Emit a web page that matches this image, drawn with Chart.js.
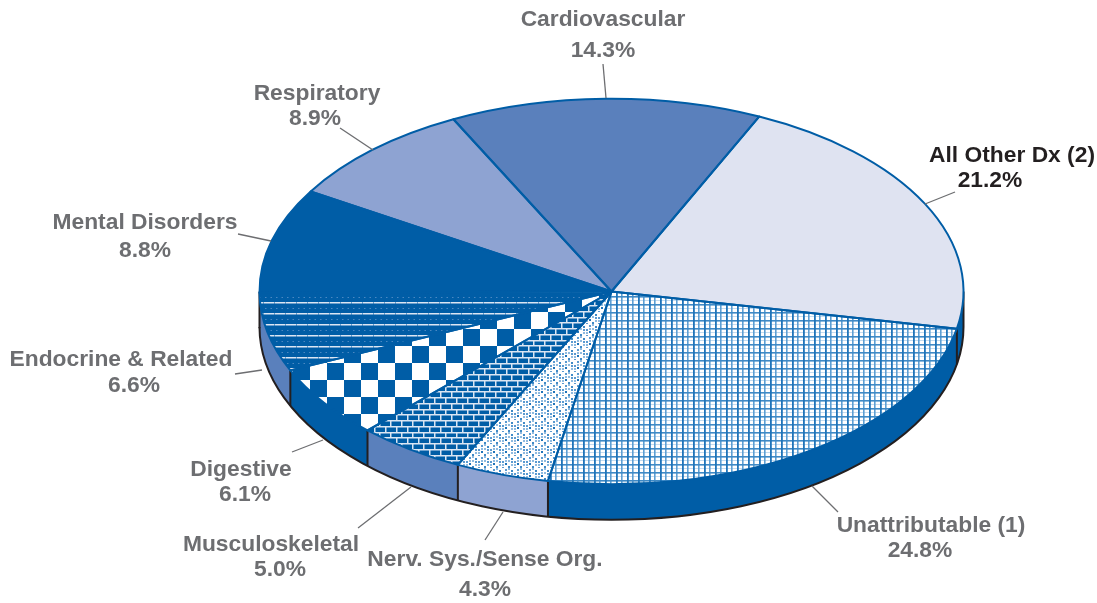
<!DOCTYPE html>
<html>
<head>
<meta charset="utf-8">
<script src="https://cdn.jsdelivr.net/npm/chart.js@4"></script>
<style>
  html, body { margin: 0; padding: 0; background: #fff; }
  #wrap { width: 1097px; height: 603px; }
</style>
</head>
<body>
<div id="wrap"><canvas id="pie"></canvas></div>
<script>
// 数据
const categories = ['All Other Dx (2)', 'Unattributable (1)', 'Nerv. Sys./Sense Org.', 'Musculoskeletal', 'Digestive', 'Endocrine & Related', 'Mental Disorders', 'Respiratory', 'Cardiovascular'];
const shares = [21.2, 24.8, 4.3, 5.0, 6.1, 6.6, 8.8, 8.9, 14.3];
const shareLabels = ['21.2%', '24.8%', '4.3%', '5.0%', '6.1%', '6.6%', '8.8%', '8.9%', '14.3%'];

// 颜色
const BLUE = '#005da6';
const MID = '#5a80bc';
const LIGHT = '#8ea3d2';
const PALE = '#dfe3f1';
const GREY = '#6d6e71';
const INK = '#231f20';
const sideColors = [BLUE, BLUE, LIGHT, MID, BLUE, MID, BLUE, LIGHT, MID];

// 倾斜与厚度
const SQUASH = 0.5475;
const RADIUS = 352;
const DEPTH = 35.5;

// 标签位置：name x,y / percent x,y / 引线
const labelSpots = [
  { nx: 1012, ny: 156, px: 990, py: 181, line: [925, 204, 955, 192] },
  { nx: 931, ny: 526, px: 920, py: 551, line: [838, 512, 812, 486] },
  { nx: 485, ny: 560, px: 485, py: 590, line: [485, 540, 503, 512] },
  { nx: 271, ny: 545, px: 280, py: 570, line: [358, 528, 411, 487] },
  { nx: 241, ny: 470, px: 245, py: 495, line: [292, 452, 323, 440] },
  { nx: 121, ny: 360, px: 134, py: 386, line: [235, 374, 262, 370] },
  { nx: 145, ny: 223, px: 145, py: 251, line: [238, 234, 271, 241] },
  { nx: 317, ny: 94, px: 315, py: 119, line: [340, 128, 373, 150] },
  { nx: 603, ny: 20, px: 603, py: 51, line: [603, 64, 606, 98] }
];

// 生成平铺图案
function makeTile(w, h, bg, paint) {
  const c = document.createElement('canvas');
  c.width = w;
  c.height = h;
  const g = c.getContext('2d');
  g.fillStyle = bg;
  g.fillRect(0, 0, w, h);
  paint(g);
  return g.createPattern(c, 'repeat');
}

const gridFill = makeTile(11, 8, '#ffffff', g => {
  g.fillStyle = '#c4dcf0';
  g.fillRect(0, 4, 11, 1);
  g.fillStyle = '#5d9fd3';
  g.fillRect(5, 0, 1.6, 8);
  g.fillStyle = '#3f8ac6';
  g.fillRect(0, 0, 11, 1.6);
  g.fillStyle = '#1f74b9';
  g.fillRect(0, 0, 1.8, 8);
});

const dotFill = makeTile(12, 12, '#ffffff', g => {
  const spots = [[1, 1, '#5a9ad0'], [7, 2, '#3f8ac6'], [4, 4, '#8fbbe0'], [10, 5, '#5a9ad0'], [1, 7, '#1f74b9'], [7, 8, '#8fbbe0'], [4, 10, '#3f8ac6'], [10, 11, '#5a9ad0'], [4, 0, '#8fbbe0'], [10, 8, '#8fbbe0'], [1, 4, '#8fbbe0'], [7, 5, '#5a9ad0']];
  spots.forEach(s => {
    g.fillStyle = s[2];
    g.fillRect(s[0], s[1], 2, 2);
  });
});

const brickFill = makeTile(11, 23, BLUE, g => {
  g.fillStyle = '#dbe6f3';
  [0, 6, 12, 18].forEach((y, i) => {
    g.fillRect(0, y, 11, 1.5);
    g.fillRect(i % 2 ? 5 : 0, y, 1.5, i === 3 ? 5 : 6);
  });
});

const checkFill = makeTile(34, 34, BLUE, g => {
  g.fillStyle = '#ffffff';
  g.fillRect(0, 0, 17, 17);
  g.fillRect(17, 17, 17, 17);
});

const stripeFill = makeTile(11, 11, BLUE, g => {
  g.fillStyle = '#dbe6f3';
  g.fillRect(0, 0, 10.5, 1.5);
  g.fillStyle = '#4a88c2';
  g.fillRect(1, 6, 1.5, 1);
  g.fillRect(6.5, 6, 1.5, 1);
});

const sliceFills = [PALE, gridFill, dotFill, brickFill, checkFill, stripeFill, BLUE, LIGHT, MID];

// 图案偏移（屏幕坐标）
const tileOffsets = [
  [gridFill, 0, 0],
  [dotFill, 0, 0],
  [brickFill, 0, 0],
  [checkFill, 344, 363],
  [stripeFill, 0, 302]
];

function norm(t) {
  const full = Math.PI * 2;
  return ((t % full) + full) % full;
}

// 侧面：只画朝下的半圈
function drawWalls(ctx, arcs) {
  const cx = arcs[0].x;
  const cy = arcs[0].y;
  const ry = RADIUS * SQUASH;
  arcs.forEach((arc, i) => {
    const s = norm(arc.startAngle);
    const e = norm(arc.endAngle);
    const a = s > e ? 0 : s;
    const b = Math.min(e, Math.PI);
    if (a >= b) return;
    ctx.beginPath();
    ctx.ellipse(cx, cy, RADIUS, ry, 0, a, b);
    ctx.ellipse(cx, cy + DEPTH, RADIUS, ry, 0, b, a, true);
    ctx.closePath();
    ctx.fillStyle = sideColors[i];
    ctx.fill();
  });
  // 下边缘和分隔线
  ctx.strokeStyle = INK;
  ctx.lineWidth = 2;
  ctx.beginPath();
  ctx.ellipse(cx, cy + DEPTH, RADIUS, ry, 0, 0, Math.PI);
  ctx.stroke();
  ctx.beginPath();
  arcs.forEach(arc => {
    const t = norm(arc.startAngle);
    if (t > 0 && t < Math.PI) {
      const x = cx + RADIUS * Math.cos(t);
      const y = cy + ry * Math.sin(t);
      ctx.moveTo(x, y);
      ctx.lineTo(x, y + DEPTH);
    }
  });
  ctx.moveTo(cx + RADIUS, cy);
  ctx.lineTo(cx + RADIUS, cy + DEPTH);
  ctx.moveTo(cx - RADIUS, cy);
  ctx.lineTo(cx - RADIUS, cy + DEPTH);
  ctx.stroke();
}

// 把圆压成椭圆，并画描边和标签
const tiltPlugin = {
  id: 'tilt',
  beforeDatasetsDraw(chart) {
    const ctx = chart.ctx;
    const arcs = chart.getDatasetMeta(0).data;
    const cx = arcs[0].x;
    const cy = arcs[0].y;
    drawWalls(ctx, arcs);
    tileOffsets.forEach(t => {
      const f = (t[2] - cy * (1 - SQUASH)) / SQUASH;
      t[0].setTransform(new DOMMatrix([1, 0, 0, 1 / SQUASH, t[1], f]));
    });
    ctx.save();
    ctx.translate(cx, cy);
    ctx.scale(1, SQUASH);
    ctx.translate(-cx, -cy);
  },
  afterDatasetsDraw(chart) {
    const ctx = chart.ctx;
    ctx.restore();
    const arcs = chart.getDatasetMeta(0).data;
    const cx = arcs[0].x;
    const cy = arcs[0].y;
    ctx.save();
    ctx.strokeStyle = BLUE;
    ctx.lineWidth = 2;
    ctx.lineJoin = 'round';
    arcs.forEach(arc => {
      ctx.beginPath();
      ctx.moveTo(cx, cy);
      ctx.ellipse(cx, cy, RADIUS, RADIUS * SQUASH, 0, arc.startAngle, arc.endAngle);
      ctx.closePath();
      ctx.stroke();
    });
    // 引线
    ctx.strokeStyle = GREY;
    ctx.lineWidth = 1.3;
    labelSpots.forEach(s => {
      ctx.beginPath();
      ctx.moveTo(s.line[0], s.line[1]);
      ctx.lineTo(s.line[2], s.line[3]);
      ctx.stroke();
    });
    // 标签
    ctx.font = 'bold 22.8px "Liberation Sans", Arial, sans-serif';
    ctx.textAlign = 'center';
    ctx.textBaseline = 'middle';
    categories.forEach((name, i) => {
      const s = labelSpots[i];
      ctx.fillStyle = i === 0 ? INK : GREY;
      ctx.fillText(name, s.nx, s.ny);
      ctx.fillText(shareLabels[i], s.px, s.py);
    });
    ctx.restore();
  }
};

new Chart(document.getElementById('pie'), {
  type: 'pie',
  data: {
    labels: categories,
    datasets: [{
      data: shares,
      backgroundColor: sliceFills,
      borderWidth: 0,
      clip: false
    }]
  },
  options: {
    responsive: true,
    maintainAspectRatio: false,
    animation: false,
    radius: RADIUS,
    rotation: 24.8,
    layout: { padding: { left: 126, bottom: 20 } },
    plugins: {
      legend: { display: false },
      tooltip: { enabled: false }
    }
  },
  plugins: [tiltPlugin]
});
</script>
</body>
</html>
